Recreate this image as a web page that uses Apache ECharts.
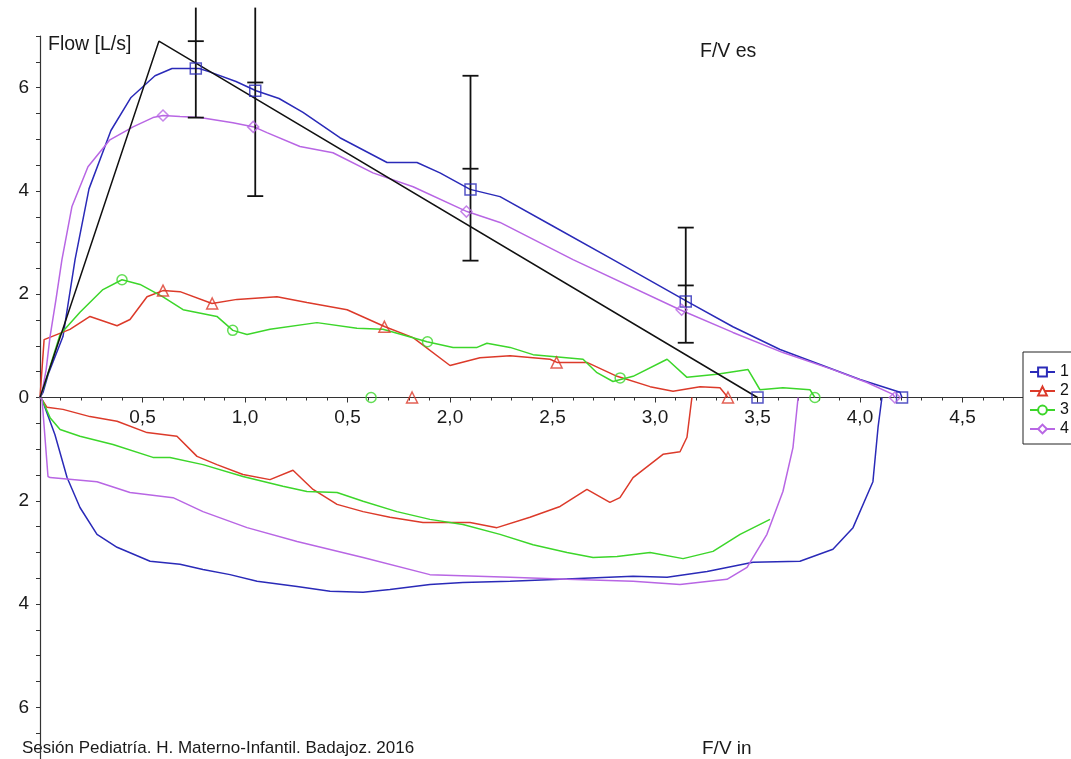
<!DOCTYPE html>
<html>
<head>
<meta charset="utf-8">
<script src="https://cdn.jsdelivr.net/npm/echarts@6/dist/echarts.min.js"></script>
<style>
  html, body { margin: 0; padding: 0; background: #fff; }
  #chart { width: 1071px; height: 759px; }
</style>
</head>
<body>
<div id="chart"></div>
<script>
// Axis tick labels (volume in L, flow in L/s; inspiratory flow shown as absolute value)
const xTickValues = [0.5, 1.0, 1.5, 2.0, 2.5, 3.0, 3.5, 4.0, 4.5];
const xTickLabels = ['0,5', '1,0', '0,5', '2,0', '2,5', '3,0', '3,5', '4,0', '4,5'];
const yTickValues = [-6, -4, -2, 0, 2, 4, 6];
const yTickLabels = ['6', '4', '2', '0', '2', '4', '6'];

const seriesNames = ['1', '2', '3', '4'];
const seriesColors = ['#2a2ab8', '#dc3a2a', '#3cd62a', '#b866e4'];
const seriesSymbols = ['rect', 'triangle', 'circle', 'diamond'];
const seriesSymbolSizes = [11, 11, 10, 11];

// Curve 1: expiratory [volume, flow] and inspiratory [volume, -flow]
const flow1Exp = [[0,0],[0.015,0.10],[0.04,0.45],[0.112,1.18],[0.171,2.67],[0.239,4.04],[0.346,5.17],[0.444,5.81],[0.561,6.23],[0.644,6.37],[0.776,6.37],[0.824,6.31],[0.956,6.12],[1.054,5.94],[1.166,5.79],[1.283,5.52],[1.463,5.03],[1.693,4.55],[1.839,4.55],[1.951,4.35],[2.098,4.03],[2.244,3.89],[2.488,3.35],[2.795,2.67],[3.156,1.86],[3.38,1.37],[3.61,0.93],[3.805,0.64],[4.0,0.35],[4.195,0.10],[4.205,0.0]];
const flow1Insp = [[0.01,-0.04],[0.073,-0.72],[0.132,-1.55],[0.195,-2.13],[0.278,-2.65],[0.376,-2.90],[0.537,-3.17],[0.683,-3.23],[0.795,-3.33],[0.927,-3.43],[1.059,-3.56],[1.254,-3.66],[1.415,-3.75],[1.576,-3.77],[1.707,-3.72],[1.902,-3.62],[2.063,-3.58],[2.293,-3.56],[2.537,-3.52],[2.893,-3.46],[3.059,-3.48],[3.254,-3.37],[3.478,-3.19],[3.707,-3.17],[3.868,-2.94],[3.966,-2.52],[4.063,-1.63],[4.088,-0.58],[4.107,0]];
const marks1 = [[0.76,6.37],[1.05,5.94],[2.10,4.03],[3.15,1.86],[4.205,0],[3.50,0]];

// Curve 2
const flow2Exp = [[0,0],[0.02,1.12],[0.146,1.32],[0.244,1.57],[0.376,1.39],[0.439,1.51],[0.522,1.95],[0.60,2.07],[0.683,2.05],[0.839,1.82],[0.961,1.90],[1.156,1.95],[1.302,1.84],[1.498,1.70],[1.683,1.37],[1.82,1.16],[2.0,0.62],[2.146,0.77],[2.293,0.81],[2.488,0.74],[2.522,0.68],[2.668,0.68],[2.815,0.41],[2.976,0.21],[3.088,0.12],[3.22,0.21],[3.317,0.19],[3.356,0.0]];
const flow2Insp = [[0.01,-0.04],[0.034,-0.19],[0.112,-0.23],[0.244,-0.37],[0.376,-0.46],[0.522,-0.68],[0.668,-0.75],[0.766,-1.14],[0.863,-1.30],[0.99,-1.49],[1.122,-1.59],[1.234,-1.41],[1.332,-1.78],[1.449,-2.07],[1.576,-2.21],[1.707,-2.32],[1.868,-2.42],[2.098,-2.42],[2.229,-2.52],[2.39,-2.32],[2.537,-2.11],[2.668,-1.78],[2.78,-2.03],[2.829,-1.94],[2.893,-1.55],[3.039,-1.10],[3.122,-1.05],[3.156,-0.77],[3.18,0]];
const marks2 = [[0.60,2.07],[0.84,1.82],[1.68,1.37],[2.52,0.68],[3.356,0],[1.815,0]];

// Curve 3
const flow3Exp = [[0,0],[0.01,0.10],[0.098,1.22],[0.195,1.65],[0.307,2.09],[0.40,2.28],[0.488,2.19],[0.60,1.95],[0.698,1.70],[0.863,1.57],[0.941,1.30],[1.01,1.22],[1.122,1.32],[1.351,1.45],[1.546,1.34],[1.673,1.32],[1.888,1.08],[2.015,0.97],[2.132,0.97],[2.18,1.05],[2.293,0.97],[2.405,0.83],[2.649,0.74],[2.717,0.48],[2.795,0.31],[2.893,0.41],[3.059,0.74],[3.156,0.39],[3.302,0.45],[3.454,0.54],[3.512,0.15],[3.624,0.19],[3.756,0.15],[3.78,0.0]];
const flow3Insp = [[0.01,-0.04],[0.049,-0.39],[0.098,-0.62],[0.195,-0.75],[0.356,-0.91],[0.551,-1.16],[0.634,-1.16],[0.795,-1.30],[0.99,-1.53],[1.185,-1.72],[1.302,-1.82],[1.449,-1.84],[1.576,-2.01],[1.741,-2.21],[1.902,-2.36],[2.063,-2.46],[2.244,-2.65],[2.405,-2.85],[2.571,-3.0],[2.698,-3.10],[2.815,-3.08],[2.976,-3.0],[3.137,-3.12],[3.283,-2.98],[3.415,-2.65],[3.561,-2.36]];
const marks3 = [[0.40,2.28],[0.94,1.30],[1.89,1.08],[2.83,0.38],[3.78,0],[1.615,0]];

// Curve 4
const flow4Exp = [[0,0],[0.01,0.10],[0.03,0.54],[0.049,1.18],[0.078,1.90],[0.107,2.67],[0.156,3.70],[0.234,4.47],[0.341,4.99],[0.454,5.24],[0.551,5.42],[0.60,5.46],[0.683,5.44],[0.78,5.42],[0.941,5.32],[1.044,5.24],[1.107,5.13],[1.268,4.86],[1.429,4.74],[1.624,4.35],[1.82,4.08],[2.083,3.60],[2.244,3.39],[2.60,2.67],[3.122,1.70],[3.38,1.26],[3.624,0.87],[3.868,0.54],[4.034,0.29],[4.161,0.06],[4.17,0.0]];
const flow4Insp = [[0.01,-0.04],[0.039,-1.53],[0.049,-1.55],[0.278,-1.63],[0.439,-1.84],[0.649,-1.94],[0.795,-2.21],[1.01,-2.52],[1.254,-2.79],[1.576,-3.10],[1.902,-3.43],[2.293,-3.48],[2.571,-3.52],[2.893,-3.56],[3.122,-3.62],[3.351,-3.52],[3.449,-3.29],[3.546,-2.65],[3.624,-1.82],[3.673,-0.97],[3.698,0]];
const marks4 = [[0.60,5.46],[1.04,5.24],[2.08,3.60],[3.13,1.70],[4.17,0]];

// Predicted expiratory curve and its error bars
const predicted = [[0,0],[0.58,6.9],[3.50,0]];
const errVolume = [0.76, 1.05, 2.10, 3.15];
const errLow = [5.42, 3.90, 2.65, 1.06];
const errMid = [6.90, 6.10, 4.43, 2.17];
const errHigh = [7.55, 7.55, 6.23, 3.29];

const expCurves = [flow1Exp, flow2Exp, flow3Exp, flow4Exp];
const inspCurves = [flow1Insp, flow2Insp, flow3Insp, flow4Insp];
const markSets = [marks1, marks2, marks3, marks4];

const FONT = '"Liberation Sans", Arial, sans-serif';
const Y_MIN = -7, Y_MAX = 7;
const GRID_TOP = 36, GRID_H = 723;
// the volume axis runs along zero flow, inside the plot
const zeroOffset = -(GRID_H * (0 - Y_MIN) / (Y_MAX - Y_MIN));

function tickText(values, labels, v) {
  for (let i = 0; i < values.length; i++) {
    if (Math.abs(values[i] - v) < 1e-6) return labels[i];
  }
  return '';
}

const loopSeries = seriesNames.map((name, i) => ({
  name: name,
  type: 'line',
  data: inspCurves[i].slice().reverse().concat(expCurves[i]),
  showSymbol: false,
  symbol: seriesSymbols[i],
  lineStyle: { color: seriesColors[i], width: 1.5 },
  itemStyle: { color: '#fff', borderColor: seriesColors[i], borderWidth: 1.2 },
  z: 3
}));

const markerSeries = seriesNames.map((name, i) => ({
  name: name,
  type: 'scatter',
  data: markSets[i],
  symbol: seriesSymbols[i],
  symbolSize: seriesSymbolSizes[i],
  itemStyle: { color: 'rgba(255,255,255,0)', borderColor: seriesColors[i], borderWidth: 1.5 },
  z: 6
}));

const errData = errVolume.map((v, i) => [v, errLow[i], errMid[i], errHigh[i]]);

const chart = echarts.init(document.getElementById('chart'), null, { renderer: 'canvas' });
chart.setOption({
  animation: false,
  backgroundColor: '#fff',
  grid: { left: 40, right: 47, top: GRID_TOP, height: GRID_H, containLabel: false, outerBoundsMode: 'none' },
  legend: {
    data: seriesNames,
    orient: 'vertical',
    left: 1023,
    top: 352,
    padding: [12, 30, 7, 6],
    itemWidth: 25,
    itemHeight: 11,
    itemGap: 3,
    borderColor: '#222',
    borderWidth: 1,
    backgroundColor: '#fff',
    textStyle: { fontFamily: FONT, fontSize: 16, color: '#111' }
  },
  xAxis: {
    type: 'value',
    min: 0,
    max: 4.8,
    interval: 0.5,
    position: 'bottom',
    offset: zeroOffset,
    axisLine: { onZero: false, lineStyle: { color: '#333', width: 1.2 } },
    axisTick: { show: true, length: 5, lineStyle: { color: '#333' } },
    minorTick: { show: true, splitNumber: 5, length: 3, lineStyle: { color: '#333' } },
    splitLine: { show: false },
    axisLabel: {
      margin: 11,
      fontFamily: FONT,
      fontSize: 19,
      color: '#1a1a1a',
      formatter: v => tickText(xTickValues, xTickLabels, v)
    }
  },
  yAxis: {
    type: 'value',
    min: Y_MIN,
    max: Y_MAX,
    interval: 0.5,
    axisLine: { show: true, onZero: false, lineStyle: { color: '#333', width: 1.2 } },
    axisTick: { show: true, length: 4, lineStyle: { color: '#333' } },
    splitLine: { show: false },
    axisLabel: {
      margin: 11,
      fontFamily: FONT,
      fontSize: 19,
      color: '#1a1a1a',
      formatter: v => tickText(yTickValues, yTickLabels, v)
    }
  },
  graphic: [
    { type: 'text', left: 48, top: 35, style: { text: 'Flow [L/s]', font: '19.5px ' + FONT, fill: '#1a1a1a' } },
    { type: 'text', left: 700, top: 42, style: { text: 'F/V es', font: '19.5px ' + FONT, fill: '#1a1a1a' } },
    { type: 'text', left: 702, top: 739, style: { text: 'F/V in', font: '19px ' + FONT, fill: '#1a1a1a' } },
    { type: 'text', left: 22, top: 740, style: { text: 'Sesión Pediatría. H. Materno-Infantil. Badajoz. 2016', font: '17px ' + FONT, fill: '#1a1a1a' } }
  ],
  series: [
    ...loopSeries,
    {
      type: 'line',
      data: predicted,
      showSymbol: false,
      lineStyle: { color: '#111', width: 1.5 },
      z: 4
    },
    {
      type: 'custom',
      data: errData,
      clip: false,
      z: 5,
      renderItem: function (params, api) {
        const x = api.value(0);
        const hiVal = api.value(3);
        const lo = api.coord([x, api.value(1)]);
        const mid = api.coord([x, api.value(2)]);
        const hi = api.coord([x, hiVal]);
        const hw = 8;
        const style = { stroke: '#111', lineWidth: 1.8 };
        const seg = (x1, y1, x2, y2) => ({ type: 'line', shape: { x1, y1, x2, y2 }, style });
        const parts = [
          seg(lo[0], lo[1], hi[0], hi[1]),
          seg(lo[0] - hw, lo[1], lo[0] + hw, lo[1]),
          seg(mid[0] - hw, mid[1], mid[0] + hw, mid[1])
        ];
        if (hiVal <= Y_MAX) parts.push(seg(hi[0] - hw, hi[1], hi[0] + hw, hi[1]));
        return { type: 'group', children: parts };
      }
    },
    ...markerSeries
  ]
});
</script>
</body>
</html>
